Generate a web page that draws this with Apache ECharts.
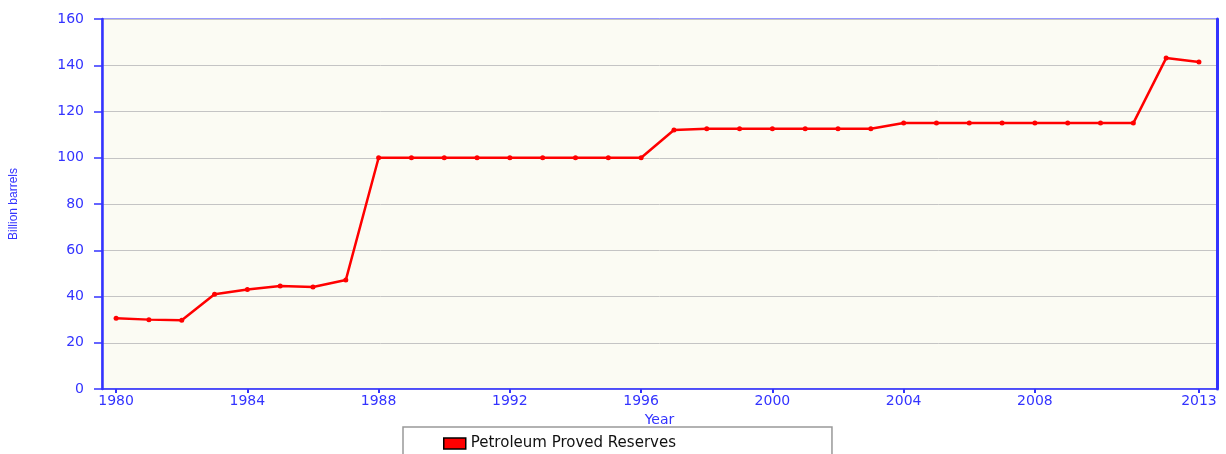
<!DOCTYPE html>
<html lang="en" style="height: 100%">
<head>
  <meta charset="utf-8">
</head>
<body style="height: 100%; margin: 0; background: #ffffff">
  <div id="container" style="width: 1226px; height: 454px"></div>

  <script type="text/javascript" src="https://fastly.jsdelivr.net/npm/echarts@6/dist/echarts.min.js"></script>

  <script type="text/javascript">
    var years = [1980, 1981, 1982, 1983, 1984, 1985, 1986, 1987, 1988, 1989,
      1990, 1991, 1992, 1993, 1994, 1995, 1996, 1997, 1998, 1999,
      2000, 2001, 2002, 2003, 2004, 2005, 2006, 2007, 2008, 2009,
      2010, 2011, 2012, 2013];
    var reserves = [30.6, 30.0, 29.7, 41.0, 43.0, 44.5, 44.1, 47.1, 100, 100,
      100, 100, 100, 100, 100, 100, 100, 112, 112.5, 112.5,
      112.5, 112.5, 112.5, 112.5, 115, 115, 115, 115, 115, 115,
      115, 115, 143.1, 141.4];
    var yearTicks = [1980, 1984, 1988, 1992, 1996, 2000, 2004, 2008, 2013];

    var blue = '#3333ff';
    var dom = document.getElementById('container');
    var myChart = echarts.init(dom, null, { renderer: 'canvas' });

    var seriesData = years.map(function (y, i) { return [y, reserves[i]]; });

    var option = {
      animation: false,
      grid: {
        left: 101,
        right: 9,
        top: 19,
        bottom: 65,
        show: true,
        backgroundColor: '#fbfbf3',
        borderColor: blue,
        borderWidth: 1
      },
      legend: {
        data: ['Petroleum Proved Reserves'],
        left: 403,
        top: 427,
        padding: [9, 156, 12, 40],
        borderColor: '#999999',
        borderWidth: 1.5,
        itemWidth: 22,
        itemHeight: 11,
        icon: 'rect',
        itemStyle: { borderColor: '#000000', borderWidth: 1.5 },
        textStyle: { color: '#111111', fontSize: 15, fontFamily: 'DejaVu Sans' }
      },
      xAxis: {
        type: 'value',
        min: 1979.57,
        max: 2013.55,
        name: 'Year',
        nameLocation: 'middle',
        nameGap: 18,
        nameTextStyle: { color: blue, fontSize: 14, fontFamily: 'DejaVu Sans' },
        axisLine: { lineStyle: { color: blue, width: 1.5 } },
        axisTick: { show: true, length: 4, customValues: yearTicks, lineStyle: { color: blue, width: 2 } },
        axisLabel: {
          customValues: yearTicks,
          color: blue,
          fontSize: 14,
          fontFamily: 'DejaVu Sans',
          margin: 5,
          formatter: function (v) { return String(v); }
        },
        splitLine: { show: false }
      },
      yAxis: [
        {
          type: 'value',
          min: 0,
          max: 160,
          interval: 20,
          name: 'Billion barrels',
          nameLocation: 'middle',
          nameGap: 82,
          nameTextStyle: { color: blue, fontSize: 12, fontFamily: 'Liberation Sans' },
          axisLine: { show: true, lineStyle: { color: blue, width: 2.5 } },
          axisTick: { show: true, length: 8, lineStyle: { color: blue, width: 1.5 } },
          axisLabel: { color: blue, fontSize: 14, fontFamily: 'DejaVu Sans', margin: 18 },
          splitLine: { lineStyle: { color: '#c4c4c4', width: 1 } }
        },
        {
          type: 'value',
          min: 0,
          max: 160,
          position: 'right',
          axisLine: { show: true, lineStyle: { color: blue, width: 3 } },
          axisTick: { show: false },
          axisLabel: { show: false },
          splitLine: { show: false }
        }
      ],
      series: [
        {
          name: 'Petroleum Proved Reserves',
          type: 'line',
          data: seriesData,
          symbol: 'circle',
          symbolSize: 5,
          lineStyle: { color: '#ff0000', width: 2.5 },
          itemStyle: { color: '#ff0000' }
        }
      ]
    };

    myChart.setOption(option);
    window.addEventListener('resize', myChart.resize);
  </script>
</body>
</html>
